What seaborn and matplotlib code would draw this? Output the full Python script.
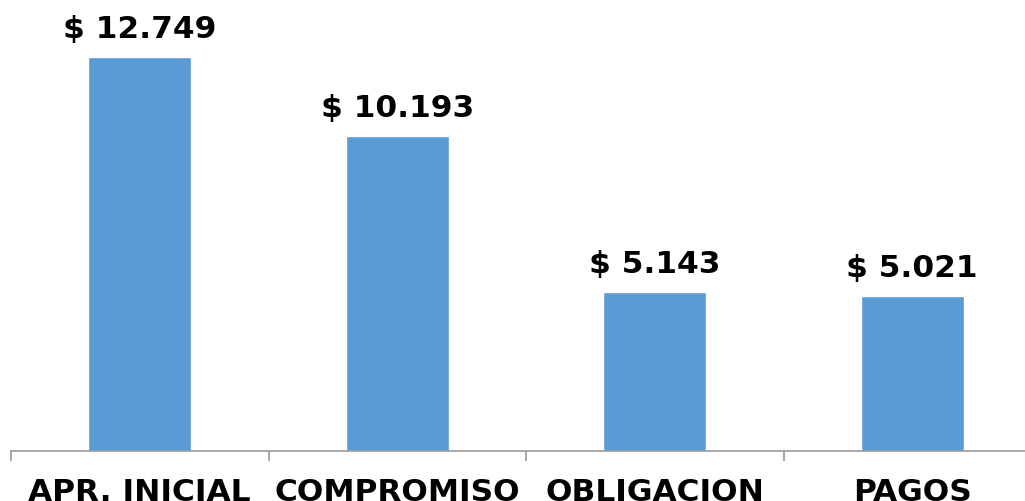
import matplotlib
matplotlib.use("Agg")
import matplotlib.pyplot as plt
import seaborn as sns
import pandas as pd

# dados do gráfico
categorias = ["APR. INICIAL", "COMPROMISO", "OBLIGACION", "PAGOS"]
valores = [12749, 10193, 5143, 5021]
rotulos = ["$ 12.749", "$ 10.193", "$ 5.143", "$ 5.021"]

df = pd.DataFrame({"Etapa": categorias, "Valor": valores})

sns.set_style("white")
plt.rcParams["font.family"] = ["DejaVu Sans"]

fig = plt.figure(figsize=(10.25, 5.02), dpi=100)
ax = fig.add_axes([11 / 1025, 50 / 502, 1030 / 1025, 433 / 502])

sns.barplot(data=df, x="Etapa", y="Valor", color="#5B9BD5", width=0.4,
            saturation=1, ax=ax)

ax.set_xlim(-0.5, 3.5)
ax.set_ylim(0, 14000)

# rótulos de valor acima das barras
for i, (v, txt) in enumerate(zip(valores, rotulos)):
    ax.annotate(txt, (i, v), xytext=(0, 10), textcoords="offset points",
                ha="center", va="bottom", fontsize=22.5, fontweight="bold",
                color="black")

for s in ["top", "right", "left"]:
    ax.spines[s].set_visible(False)
ax.spines["bottom"].set_color("#999999")
ax.spines["bottom"].set_linewidth(1.2)

ax.set_yticks([])
ax.set_xlabel("")
ax.set_ylabel("")
ax.set_xticks(range(len(categorias)))
ax.set_xticklabels(categorias, fontsize=22.5, fontweight="bold", color="black")
ax.set_xticks([-0.5, 0.5, 1.5, 2.5, 3.5], minor=True)
ax.tick_params(axis="x", which="major", bottom=True, length=0, pad=19)
ax.tick_params(axis="x", which="minor", bottom=True, length=7,
               color="#999999", width=1.2)

fig.savefig("out.png", dpi=100)
